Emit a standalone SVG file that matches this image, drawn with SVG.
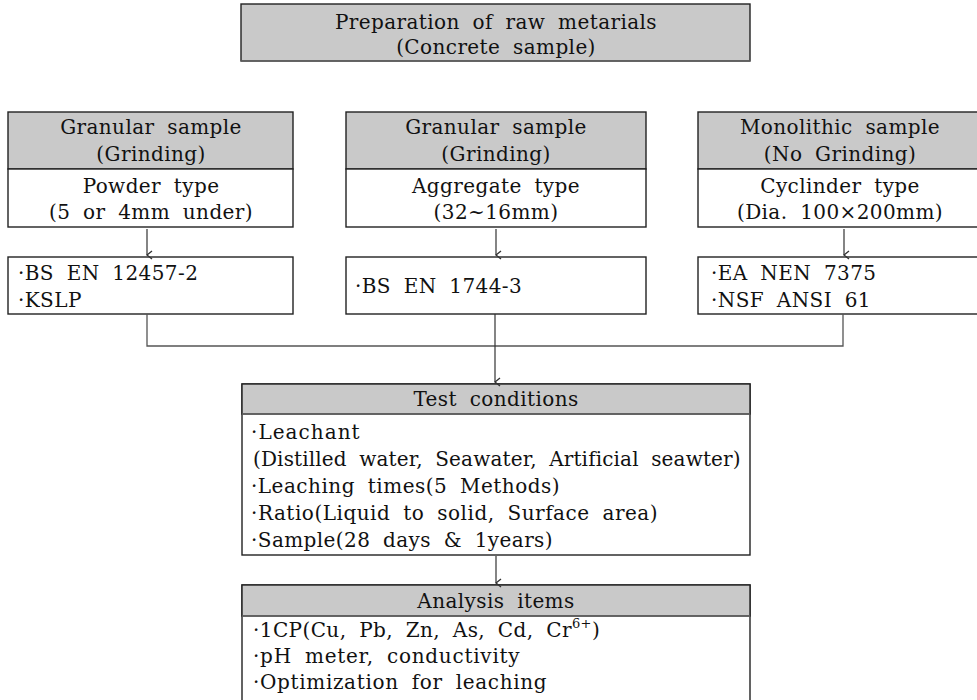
<svg xmlns="http://www.w3.org/2000/svg" width="977" height="700" viewBox="0 0 977 700">
  <defs>
    <marker id="arrow" viewBox="0 0 10 10" refX="5" refY="9" markerWidth="10" markerHeight="10" markerUnits="userSpaceOnUse" orient="auto-start-reverse">
      <path d="M1,4 L5,9 L9,4" fill="none" stroke="#333" stroke-width="1.4"/>
    </marker>
    <style>
      .box { fill: #ffffff; stroke: #222; stroke-width: 1.4; }
      .head { fill: #c9c9c9; stroke: #222; stroke-width: 1.4; }
      .sep { stroke: #666; stroke-width: 1.6; }
      .link { fill: none; stroke: #555; stroke-width: 1.3; }
      .arr { fill: none; stroke: #333; stroke-width: 1.2; marker-end: url(#arrow); }
      text { font-family: "DejaVu Serif", "Liberation Serif", serif; font-size: 20px; letter-spacing: 0.4px; word-spacing: 6px; fill: #111; }
      .c { text-anchor: middle; }
    </style>
  </defs>
  <rect width="977" height="700" fill="#ffffff"/>

  <!-- top: raw materials -->
  <g id="raw-materials">
    <rect class="head" x="241" y="4" width="509" height="57"/>
    <line class="sep" x1="241" y1="61" x2="750" y2="61"/>
    <text class="c" x="496" y="29">Preparation of raw metarials</text>
    <text class="c" x="496" y="54">(Concrete sample)</text>
  </g>

  <!-- sample types -->
  <g id="powder-sample">
    <rect class="head" x="8" y="112" width="285" height="57"/>
    <rect class="box" x="8" y="169" width="285" height="58"/>
    <text class="c" x="151" y="134">Granular sample</text>
    <text class="c" x="151" y="161">(Grinding)</text>
    <text class="c" x="151" y="193">Powder type</text>
    <text class="c" x="151" y="219">(5 or 4mm under)</text>
  </g>
  <g id="aggregate-sample">
    <rect class="head" x="346" y="112" width="300" height="57"/>
    <rect class="box" x="346" y="169" width="300" height="58"/>
    <text class="c" x="496" y="134">Granular sample</text>
    <text class="c" x="496" y="161">(Grinding)</text>
    <text class="c" x="496" y="193">Aggregate type</text>
    <text class="c" x="496" y="219">(32~16mm)</text>
  </g>
  <g id="monolithic-sample">
    <rect class="head" x="698" y="112" width="292" height="57"/>
    <rect class="box" x="698" y="169" width="292" height="58"/>
    <text class="c" x="840" y="134">Monolithic sample</text>
    <text class="c" x="840" y="161">(No Grinding)</text>
    <text class="c" x="840" y="193">Cyclinder type</text>
    <text class="c" x="840" y="219">(Dia. 100×200mm)</text>
  </g>

  <!-- standards -->
  <g id="standards-powder">
    <rect class="box" x="8" y="257" width="285" height="57"/>
    <text x="18" y="280">·BS EN 12457-2</text>
    <text x="18" y="307">·KSLP</text>
  </g>
  <g id="standards-aggregate">
    <rect class="box" x="346" y="257" width="300" height="57"/>
    <text x="355" y="293">·BS EN 1744-3</text>
  </g>
  <g id="standards-monolithic">
    <rect class="box" x="698" y="257" width="292" height="57"/>
    <text x="711" y="280">·EA NEN 7375</text>
    <text x="711" y="307">·NSF ANSI 61</text>
  </g>

  <!-- test conditions -->
  <g id="test-conditions">
    <rect class="box" x="242" y="384" width="508" height="171"/>
    <rect class="head" x="242" y="384" width="508" height="30"/>
    <line class="sep" x1="242" y1="414" x2="750" y2="414"/>
    <text class="c" x="496" y="406">Test conditions</text>
    <text x="251" y="439" textLength="109">·Leachant</text>
    <text x="253" y="466" textLength="488">(Distilled water, Seawater, Artificial seawter)</text>
    <text x="251" y="493" textLength="309">·Leaching times(5 Methods)</text>
    <text x="251" y="520" textLength="407">·Ratio(Liquid to solid, Surface area)</text>
    <text x="251" y="547" textLength="302">·Sample(28 days &amp; 1years)</text>
  </g>

  <!-- analysis items -->
  <g id="analysis-items">
    <rect class="box" x="242" y="585" width="508" height="130"/>
    <rect class="head" x="242" y="585" width="508" height="31"/>
    <line class="sep" x1="242" y1="616" x2="750" y2="616"/>
    <text class="c" x="496" y="608">Analysis items</text>
    <text x="253" y="637">·1CP(Cu, Pb, Zn, As, Cd, Cr<tspan font-size="13" dy="-9">6+</tspan><tspan dy="9">)</tspan></text>
    <text x="253" y="663" textLength="267">·pH meter, conductivity</text>
    <text x="253" y="689" textLength="294">·Optimization for leaching</text>
  </g>

  <!-- connectors -->
  <g id="connectors">
    <line class="arr" x1="147" y1="229" x2="147" y2="255"/>
    <line class="arr" x1="496" y1="229" x2="496" y2="255"/>
    <line class="arr" x1="844" y1="229" x2="844" y2="255"/>
    <polyline class="link" points="147,314 147,346 843,346 843,314"/>
    <line class="arr" x1="495" y1="314" x2="495" y2="382"/>
    <line class="arr" x1="496" y1="556" x2="496" y2="583"/>
  </g>
</svg>
